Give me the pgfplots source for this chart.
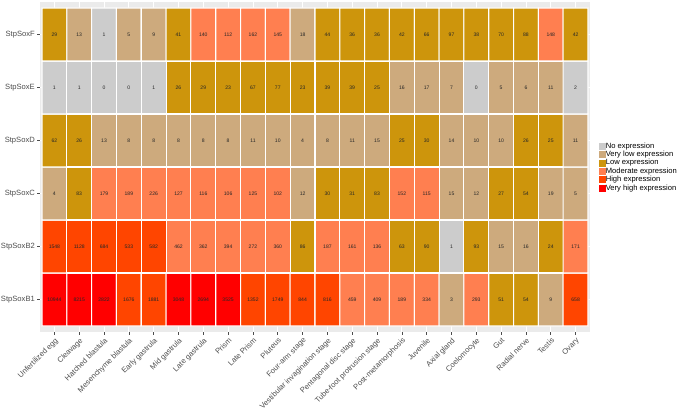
\documentclass[border=0pt]{standalone}
\usepackage{pgfplots}
\pgfplotsset{compat=1.18}
\usepackage{pgfplotstable}
\usepackage{fontspec}
\setmainfont{Liberation Sans}
\definecolor{cNo}{RGB}{204,204,204}
\definecolor{cVL}{RGB}{205,170,125}
\definecolor{cL}{RGB}{205,149,12}
\definecolor{cM}{RGB}{255,127,80}
\definecolor{cH}{RGB}{255,69,0}
\definecolor{cVH}{RGB}{255,0,0}
\definecolor{panelgrey}{RGB}{235,235,235}
\definecolor{labgrey}{RGB}{77,77,77}
\pgfplotsset{sq/.style={legend image code/.code={\fill[#1] (0pt,-2.25pt) rectangle (4.5pt,2.25pt);}}}

% c: 0 No, 1 Very low, 2 Low, 3 Moderate, 4 High, 5 Very high
\pgfplotstableread{
x y c v
0 0 5 10944
1 0 5 8215
2 0 5 2822
3 0 4 1676
4 0 4 1881
5 0 5 3048
6 0 5 2694
7 0 5 3525
8 0 4 1352
9 0 4 1749
10 0 4 844
11 0 4 816
12 0 3 459
13 0 3 409
14 0 3 189
15 0 3 334
16 0 1 3
17 0 3 293
18 0 2 51
19 0 2 54
20 0 1 9
21 0 4 658
0 1 4 1548
1 1 4 1128
2 1 4 684
3 1 4 533
4 1 4 582
5 1 3 462
6 1 3 362
7 1 3 394
8 1 3 272
9 1 3 360
10 1 2 86
11 1 3 187
12 1 3 161
13 1 3 136
14 1 2 63
15 1 2 90
16 1 0 1
17 1 2 93
18 1 1 15
19 1 1 16
20 1 2 24
21 1 3 171
0 2 1 4
1 2 2 83
2 2 3 179
3 2 3 189
4 2 3 226
5 2 3 127
6 2 3 116
7 2 3 106
8 2 3 125
9 2 3 102
10 2 1 12
11 2 2 30
12 2 2 31
13 2 2 83
14 2 3 152
15 2 3 115
16 2 1 15
17 2 1 12
18 2 2 27
19 2 2 54
20 2 1 19
21 2 1 5
0 3 2 62
1 3 2 26
2 3 1 13
3 3 1 8
4 3 1 8
5 3 1 8
6 3 1 8
7 3 1 8
8 3 1 11
9 3 1 10
10 3 1 4
11 3 1 8
12 3 1 11
13 3 1 15
14 3 2 25
15 3 2 30
16 3 1 14
17 3 1 10
18 3 1 10
19 3 2 26
20 3 2 25
21 3 1 11
0 4 0 1
1 4 0 1
2 4 0 0
3 4 0 0
4 4 0 1
5 4 2 26
6 4 2 29
7 4 2 23
8 4 2 67
9 4 2 77
10 4 2 23
11 4 2 39
12 4 2 39
13 4 2 25
14 4 1 16
15 4 1 17
16 4 1 7
17 4 0 0
18 4 1 5
19 4 1 6
20 4 1 11
21 4 0 2
0 5 2 29
1 5 1 13
2 5 0 1
3 5 1 5
4 5 1 9
5 5 2 41
6 5 3 140
7 5 3 112
8 5 3 162
9 5 3 145
10 5 1 18
11 5 2 44
12 5 2 36
13 5 2 36
14 5 2 42
15 5 2 66
16 5 2 97
17 5 2 38
18 5 2 70
19 5 2 88
20 5 3 148
21 5 2 42
}\sox

\begin{document}
\begin{tikzpicture}
\begin{axis}[
  scale only axis, width=412.5pt, height=247.5pt,
  xmin=-0.58, xmax=21.58, ymin=-0.613, ymax=5.613,
  axis background/.style={fill=panelgrey},
  axis line style={draw=none},
  grid=major, grid style={white, line width=0.6pt},
  tick pos=left, tick align=outside, major tick length=2.2pt,
  tick style={black!70, line width=0.45pt},
  xtick={0,...,21}, ytick={0,...,5},
  xticklabels={Unfertilized egg, Cleavage, Hatched blastula, Mesenchyme blastula, Early gastrula, Mid gastrula, Late gastrula, Prism, Late Prism, Pluteus, Four-arm stage, Vestibular invagination stage, Pentagonal disc stage, Tube-foot protrusion stage, Post-metamorphosis, Juvenile, Axial gland, Coelomocyte, Gut, Radial nerve, Testis, Ovary},
  yticklabels={StpSoxB1, StpSoxB2, StpSoxC, StpSoxD, StpSoxE, StpSoxF},
  xticklabel style={rotate=45, anchor=north east, font=\fontsize{5.7}{6}\selectfont, text=labgrey, inner sep=1pt},
  yticklabel style={font=\fontsize{5.7}{6}\selectfont, text=labgrey, inner sep=1.5pt},
  colormap={sox}{rgb255=(204,204,204) rgb255=(205,170,125) rgb255=(205,149,12) rgb255=(255,127,80) rgb255=(255,69,0) rgb255=(255,0,0)},
  colormap access=direct,
  legend cell align=left,
  legend style={at={(1,0.5)}, anchor=west, xshift=6.75pt, draw=none, fill=none,
    font=\fontsize{5.7}{6}\selectfont, inner sep=0pt, row sep=1.1pt,
    nodes={inner sep=0pt, text height=4.1pt, text depth=1.1pt}},
  /tikz/every even column/.append style={column sep=2.4pt},
]
\addplot[matrix plot*, shader=faceted, faceted color=white, line width=0.8pt, mesh/cols=22, point meta=explicit, forget plot]
  table[x=x, y=y, meta=c]{\sox};
\addplot[draw=none, mark=none, forget plot, nodes near coords, point meta=explicit symbolic,
  nodes near coords style={anchor=center, font=\fontsize{3.8}{4}\selectfont, text=black!85, inner sep=0pt}]
  table[x=x, y=y, meta=v]{\sox};
\addlegendimage{sq=cNo}\addlegendentry{No expression}
\addlegendimage{sq=cVL}\addlegendentry{Very low expression}
\addlegendimage{sq=cL}\addlegendentry{Low expression}
\addlegendimage{sq=cM}\addlegendentry{Moderate expression}
\addlegendimage{sq=cH}\addlegendentry{High expression}
\addlegendimage{sq=cVH}\addlegendentry{Very high expression}
\end{axis}
\pgfresetboundingbox
\useasboundingbox (-30pt,-59.25pt) rectangle (483.75pt,249pt);
\end{tikzpicture}
\end{document}
